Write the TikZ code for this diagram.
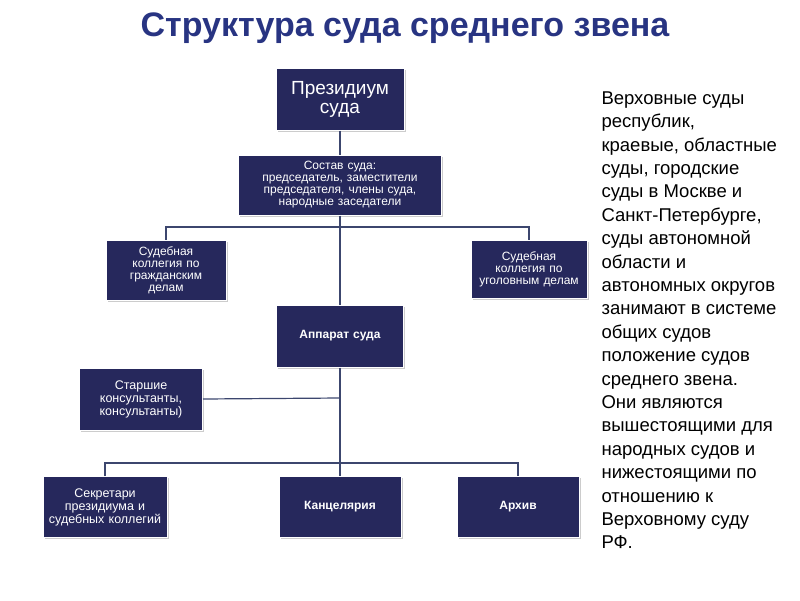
\documentclass[tikz,border=0pt]{standalone}
\usepackage{fontspec}
\setmainfont{Liberation Sans}
\usetikzlibrary{shadows}
\definecolor{navy}{RGB}{38,40,92}
\definecolor{ttl}{RGB}{40,52,130}
\definecolor{conn}{RGB}{60,70,110}
\tikzset{
  unit/.style={draw=white,line width=1pt,fill=navy,text=white,align=center,
    inner sep=2pt,drop shadow={shadow xshift=1.5pt,shadow yshift=-1.5pt,opacity=.4},
    font=\fontsize{12}{12}\selectfont},
  link/.style={conn,line width=1.2pt}
}
\begin{document}
\begin{tikzpicture}[x=1pt,y=-1pt]
\useasboundingbox (0,0) rectangle (800,600);
\node[ttl,font=\fontsize{34}{34}\selectfont\bfseries] (title) at (405,28) {Структура суда среднего звена};

\node[unit,minimum width=128pt,minimum height=62pt,text width=124pt,font=\fontsize{19}{19}\selectfont] (prez) at (340,99) {Президиум\\суда};
\node[unit,minimum width=203pt,minimum height=60pt,text width=180pt,font=\fontsize{12}{12}\selectfont] (sostav) at (340,185) {Состав суда:\\председатель, заместители председателя, члены суда, народные заседатели};
\node[unit,minimum width=120pt,minimum height=60pt,text width=105pt] (grazhd) at (166,270) {Судебная\\коллегия по\\гражданским\\делам};
\node[unit,minimum width=114pt,minimum height=58pt,text width=112pt] (ugol) at (529,269) {Судебная\\коллегия по\\уголовным делам};
\node[unit,minimum width=127pt,minimum height=62pt,text width=120pt,font=\fontsize{12}{12}\selectfont\bfseries] (apparat) at (340,336) {Аппарат суда};
\node[unit,minimum width=123pt,minimum height=62pt,text width=116pt,font=\fontsize{12.5}{13}\selectfont] (konsult) at (141,399) {Старшие\\консультанты,\\консультанты)};
\node[unit,minimum width=122pt,minimum height=61pt,text width=120pt,font=\fontsize{12.5}{13}\selectfont] (sekr) at (105,507) {Секретари\\президиума и\\судебных коллегий};
\node[unit,minimum width=122pt,minimum height=61pt,text width=118pt,font=\fontsize{12}{12}\selectfont\bfseries] (kanc) at (340,507) {Канцелярия};
\node[unit,minimum width=122pt,minimum height=61pt,text width=118pt,font=\fontsize{12}{12}\selectfont\bfseries] (arhiv) at (518,507) {Архив};

\coordinate (j1) at (340,227);
\coordinate (j2) at (340,463);
\coordinate (j3) at (340,398);

\draw[link] (prez.south) -- (sostav.north);
\draw[link] (sostav.south) -- (apparat.north);
\draw[link] (grazhd.north) |- (j1) -| (ugol.north);
\draw[link] (apparat.south) -- (j2);
\draw[link] (sekr.north) |- (j2) -| (arhiv.north);
\draw[link] (j2) -- (kanc.north);
\draw[link] (konsult.east) -- (j3);

\node[anchor=north west,align=left,font=\fontsize{18.5}{23.4}\selectfont] (note) at (598,88)
{Верховные суды\\республик,\\краевые, областные\\суды, городские\\суды в Москве и\\Санкт-Петербурге,\\суды автономной\\области и\\автономных округов\\занимают в системе\\общих судов\\положение судов\\среднего звена.\\Они являются\\вышестоящими для\\народных судов и\\нижестоящими по\\отношению к\\Верховному суду\\РФ.};
\end{tikzpicture}
\end{document}
